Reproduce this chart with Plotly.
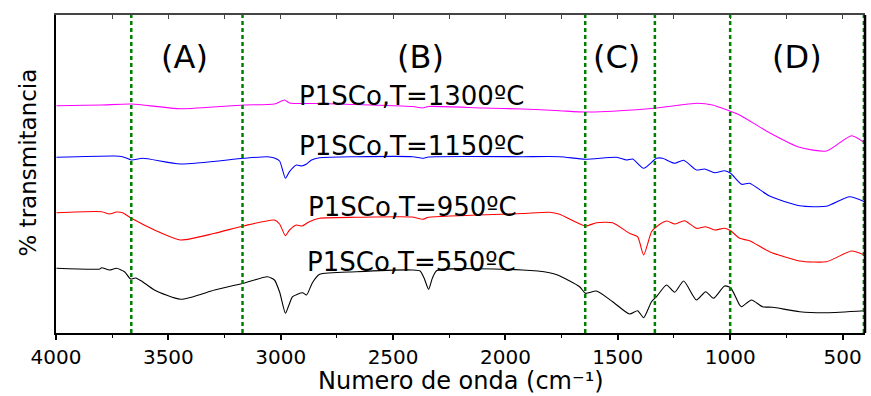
import plotly.graph_objects as go

# ---------------- data ----------------
magenta_wn = [3998, 3800, 3664, 3446, 3166, 3028, 2983, 2961, 2827, 2600, 2413, 2369, 2342,
              2100, 1924, 1759, 1644, 1417, 1328, 1145, 1078, 1047, 994, 958, 825, 691, 571, 460, 402]
magenta_T = [234.3, 235, 236, 231.3, 235, 236, 240, 237, 236.5, 235, 233.5, 232, 233.5,
             232, 231, 229.3, 228, 230.3, 232, 236.7, 235, 232.7, 228.3, 225, 207.3, 192.7, 189, 204.3, 197.3]

blue_wn = [3998, 3740, 3704, 3664, 3615, 3446, 3166, 3059, 3028, 3005, 2979, 2961, 2930, 2907, 2885,
           2863, 2827, 2663, 2413, 2369, 2342, 1924, 1759, 1644, 1506, 1461, 1434, 1385, 1328,
           1301, 1247, 1207, 1150, 1114, 1069, 1025, 998, 949, 914, 825, 691, 571, 469, 402]
blue_T = [182.7, 184, 183.3, 180, 181.7, 176, 181.7, 183.3, 182, 179, 161.7, 168.3, 175, 174, 176,
          180, 182.3, 183.3, 183.3, 181.7, 183, 183.3, 183.3, 180.7, 182.7, 180, 181, 171.7, 181.7,
          181.7, 176.7, 179.7, 170, 171, 167.3, 169.3, 166.7, 155.7, 156.7, 144, 134.3, 133.7, 143.3, 138.3]

red_wn = [3998, 3797, 3762, 3731, 3704, 3664, 3562, 3446, 3294, 3166, 3028, 3005, 2979, 2961, 2930,
          2905, 2875, 2827, 2663, 2413, 2369, 2342, 1924, 1804, 1759, 1644, 1595, 1523, 1448,
          1412, 1385, 1350, 1328, 1283, 1247, 1203, 1150, 1109, 1069, 1025, 998, 958, 914, 825,
          691, 571, 460, 402]
red_T = [127.3, 128.3, 126, 128, 127.3, 121.7, 110, 100, 106.7, 114, 120, 116, 104.3, 110, 115,
         114, 118, 121.7, 122.7, 123, 120.7, 122.7, 126.5, 127.7, 125.7, 114, 117.3, 117.3, 106.7,
         103.3, 85, 108.3, 113.3, 119, 116, 119.3, 111.7, 113.3, 110, 111.7, 109.3, 101.7, 99.3, 88.3,
         79, 78.3, 89, 85]

black_wn = [3998, 3806, 3797, 3762, 3731, 3695, 3668, 3645, 3615, 3562, 3446, 3294, 3166, 3059,
            3028, 3005, 2979, 2965, 2947, 2903, 2885, 2859, 2827, 2663, 2413, 2380, 2362, 2342, 2325,
            2305, 1924, 1804, 1768, 1670, 1644, 1595, 1523, 1448, 1412, 1385, 1350, 1328, 1283,
            1247, 1207, 1150, 1109, 1074, 1025, 998, 958, 949, 905, 856, 811, 691, 571, 402]
black_T = [71.7, 71, 72.3, 70, 71.7, 68.3, 61, 62, 58.3, 50, 40.7, 50, 56.7, 63.3,
           60, 48, 26.7, 34, 43.3, 47.3, 45, 57.3, 65.7, 68.3, 70, 69, 62, 50.7, 62,
           69.5, 70, 67.3, 65, 53.3, 46.7, 49, 38.3, 26, 29.3, 22.3, 38.3, 43.3, 55,
           47.7, 59, 40, 48.3, 41.7, 54, 52.3, 35, 33.3, 40, 33.3, 32.7, 28.3, 27.3, 29.3]

series_names = ["P1SCo,T=1300ºC", "P1SCo,T=1150ºC", "P1SCo,T=950ºC", "P1SCo,T=550ºC"]
series_x = [magenta_wn, blue_wn, red_wn, black_wn]
series_y = [magenta_T, blue_T, red_T, black_T]
series_colors = ["#ff00ff", "#0000ff", "#ff0000", "#000000"]
# label anchor positions (wavenumber, transmittance)
label_wn = [2416, 2416, 2414, 2418]
label_T = [244, 194, 133.5, 78.5]

region_bounds = [3665, 3170, 1645, 1335, 1000, 405]
region_names = ["(A)", "(B)", "(C)", "(D)"]
region_wn = [3428, 2378, 1506, 704]
region_T = 283

x_ticks = [4000, 3500, 3000, 2500, 2000, 1500, 1000, 500]

FONT = "DejaVu Sans"

fig = go.Figure()
for xs, ys, c in zip(series_x, series_y, series_colors):
    fig.add_trace(go.Scatter(x=xs, y=ys, mode="lines",
                             line=dict(color=c, width=1.1, shape="spline", smoothing=0.6),
                             showlegend=False, hoverinfo="skip"))
# helper trace so the top (mirror) axis is drawn
fig.add_trace(go.Scatter(x=[None], y=[None], xaxis="x2", yaxis="y", showlegend=False,
                         hoverinfo="skip"))

shapes = []
for b in region_bounds:
    shapes.append(dict(type="line", xref="x", yref="paper", x0=b, x1=b, y0=0, y1=1,
                       line=dict(color="#008000", width=2.5, dash="4px,3px"), layer="above"))
shapes.append(dict(type="line", xref="paper", yref="paper", x0=1, x1=1, y0=0, y1=1,
                   line=dict(color="black", width=2.5)))

annotations = []
for n, xw, yt in zip(series_names, label_wn, label_T):
    annotations.append(dict(x=xw, y=yt, xref="x", yref="y", text=n, showarrow=False,
                            xanchor="center", yanchor="middle",
                            font=dict(family=FONT, size=26, color="black")))
for n, xw in zip(region_names, region_wn):
    annotations.append(dict(x=xw, y=region_T, xref="x", yref="y", text=n, showarrow=False,
                            xanchor="center", yanchor="middle",
                            font=dict(family=FONT, size=32, color="black")))
annotations.append(dict(x=-0.035, y=0.535, xref="paper", yref="paper", text="% transmitancia",
                        textangle=-90, showarrow=False, xanchor="center", yanchor="middle",
                        font=dict(family=FONT, size=23, color="black")))
annotations.append(dict(x=0.5, y=-63 / 318, xref="paper", yref="paper",
                        text="Numero de onda (cm⁻¹)", showarrow=False,
                        xanchor="center", yanchor="bottom", borderpad=0,
                        font=dict(family=FONT, size=24, color="black")))

fig.update_layout(
    width=871, height=396,
    margin=dict(l=56, r=6, t=15, b=63),
    paper_bgcolor="white", plot_bgcolor="white",
    shapes=shapes, annotations=annotations,
    xaxis=dict(range=[4000, 400], tickvals=x_ticks, ticks="outside", ticklen=5, tickwidth=1.5,
               tickcolor="black", showline=True, linecolor="black", linewidth=1.5,
               showgrid=False, zeroline=False,
               tickfont=dict(family=FONT, size=20, color="black"),
               minor=dict(dtick=250, tick0=0, ticks="outside", ticklen=3, tickwidth=1.2,
                          tickcolor="black", showgrid=False)),
    xaxis2=dict(range=[4000, 400], overlaying="x", side="top", anchor="y", ticks="inside",
                dtick=250, tick0=0, ticklen=4, tickwidth=1.2, tickcolor="#444",
                showline=True, linecolor="#444", linewidth=1.5, showticklabels=False,
                showgrid=False, zeroline=False),
    yaxis=dict(range=[7, 325], showline=True, linecolor="black", linewidth=1.5, ticks="",
               showticklabels=False, showgrid=False, zeroline=False),
)

fig.write_html("out.html")
